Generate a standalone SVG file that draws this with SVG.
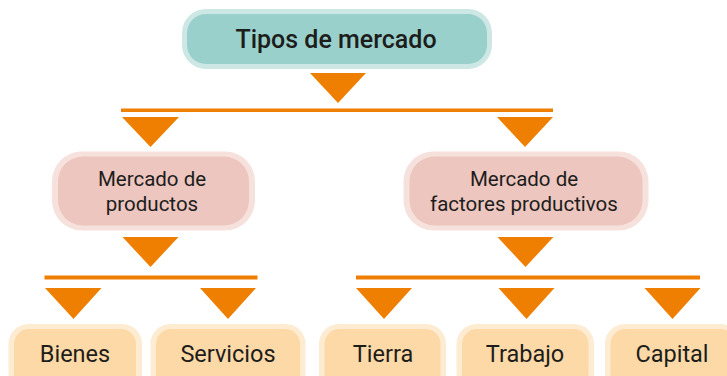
<svg xmlns="http://www.w3.org/2000/svg" width="727" height="376" viewBox="0 0 727 376">
<style>
text{font-family:"Roboto","Liberation Sans",sans-serif;font-weight:400;fill:#1d1d1b;text-anchor:middle}
.t0{font-size:25px;font-weight:500}
.t1{font-size:20.5px}
.t2{font-size:23.5px}
.arr{fill:#ef7f00}
.bar{fill:#ef7f00}
.topo{fill:#cde7e5}.topi{fill:#99d0cc}
.mido{fill:#f6e1dd}.midi{fill:#ecc6bf}
.boto{fill:#fdebd2}.boti{fill:#fcd9a6}
</style>
<rect width="727" height="376" fill="#ffffff"/>
<g id="connectors">
<polygon class="arr" points="310,73 366,73 338,103"/>
<rect class="bar" x="121" y="108.5" width="432" height="3.5"/>
<polygon class="arr" points="122,117 179,117 150.5,147"/>
<polygon class="arr" points="497,117 553,117 525,147"/>
<polygon class="arr" points="122.5,237 178.5,237 150.5,267"/>
<polygon class="arr" points="497.5,237 553.5,237 525.5,267"/>
<rect class="bar" x="44.5" y="275.5" width="213" height="4"/>
<rect class="bar" x="356" y="275.5" width="344" height="4"/>
<polygon class="arr" points="45,288 101.5,288 73.5,319"/>
<polygon class="arr" points="200,288 256,288 228,319"/>
<polygon class="arr" points="356,288 412,288 384,319"/>
<polygon class="arr" points="498.5,288 554.5,288 526.5,319"/>
<polygon class="arr" points="644.5,288 700.5,288 672.5,319"/>
</g>
<g id="n-tipos">
<rect class="topo" x="182" y="9" width="310" height="60" rx="24"/>
<rect class="topi" x="187" y="14" width="300" height="50" rx="19"/>
<text class="t0" x="336" y="48">Tipos de mercado</text>
</g>
<g id="n-productos">
<rect class="mido" x="52" y="151.5" width="203" height="79" rx="30"/>
<rect class="midi" x="58" y="156.5" width="191" height="69" rx="25"/>
<text class="t1" x="152" y="186">Mercado de</text>
<text class="t1" x="152" y="211">productos</text>
</g>
<g id="n-factores">
<rect class="mido" x="403.5" y="151.5" width="245" height="79" rx="30"/>
<rect class="midi" x="409.5" y="156.5" width="233" height="69" rx="25"/>
<text class="t1" x="524" y="186">Mercado de</text>
<text class="t1" x="524" y="211">factores productivos</text>
</g>
<g id="n-bienes">
<rect class="boto" x="8.5" y="324" width="133.5" height="70" rx="20"/>
<rect class="boti" x="14" y="329" width="122" height="60" rx="15"/>
<text class="t2" x="75" y="362">Bienes</text>
</g>
<g id="n-servicios">
<rect class="boto" x="150.5" y="324" width="155" height="70" rx="20"/>
<rect class="boti" x="156" y="329" width="144" height="60" rx="15"/>
<text class="t2" x="228" y="362">Servicios</text>
</g>
<g id="n-tierra">
<rect class="boto" x="319" y="324" width="127" height="70" rx="20"/>
<rect class="boti" x="324.5" y="329" width="116" height="60" rx="15"/>
<text class="t2" x="383" y="362">Tierra</text>
</g>
<g id="n-trabajo">
<rect class="boto" x="456.5" y="324" width="137.5" height="70" rx="20"/>
<rect class="boti" x="462" y="329" width="126.5" height="60" rx="15"/>
<text class="t2" x="525" y="362">Trabajo</text>
</g>
<g id="n-capital">
<rect class="boto" x="605" y="324" width="135" height="70" rx="20"/>
<rect class="boti" x="610.5" y="329" width="125" height="60" rx="15"/>
<text class="t2" x="672" y="362">Capital</text>
</g>
</svg>
